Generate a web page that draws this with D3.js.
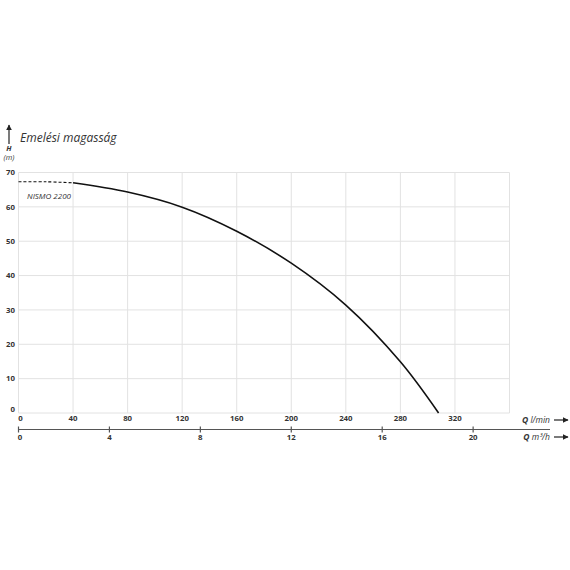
<!DOCTYPE html>
<html lang="en">
<head>
<meta charset="UTF-8" />
<title>NISMO 2200</title>
<style>
  body { margin: 0; background: #fff; }
  svg text { font-family: "Open Sans", "DejaVu Sans", sans-serif; fill: #333; }
  .tick-lbl { font-size: 7.8px; font-weight: 700; }
  .it { font-style: italic; }
</style>
</head>
<body>
<svg width="570" height="570"></svg>
<script src="https://d3js.org/d3.v7.min.js"></script>
<script>
// pump curve, flow in l/min, head in m
var flowLmin = [0, 20, 40, 80, 120, 160, 200, 240, 280, 308];
var headM    = [67.3, 67.3, 67.0, 64.3, 59.9, 52.9, 43.6, 31.4, 14.9, 0];
var dashedUntil = 40;   // first part of the curve is dashed

var qTicks  = [0, 40, 80, 120, 160, 200, 240, 280, 320];
var qGrid   = [0, 40, 80, 120, 160, 200, 240, 280, 320, 360];
var hTicks  = [0, 10, 20, 30, 40, 50, 60, 70];
var m3Ticks = [0, 4, 8, 12, 16, 20];

var svg = d3.select("svg");

var x = d3.scaleLinear().domain([0, 360]).range([18.5, 509.5]);
var y = d3.scaleLinear().domain([0, 70]).range([413, 172.5]);
// m3/h -> l/min : * 1000 / 60
var xm3 = d3.scaleLinear().domain([0, 360 * 60 / 1000]).range(x.range());

// grid
var grid = svg.append("g").attr("stroke", "#e2e2e2").attr("stroke-width", 1);
grid.selectAll("line.v").data(qGrid).enter().append("line")
    .attr("x1", function(d) { return x(d); }).attr("x2", function(d) { return x(d); })
    .attr("y1", y(70)).attr("y2", y(0));
grid.selectAll("line.h").data(hTicks).enter().append("line")
    .attr("x1", x(0)).attr("x2", x(360))
    .attr("y1", function(d) { return y(d); }).attr("y2", function(d) { return y(d); });

// y labels
svg.append("g").selectAll("text").data(hTicks).enter().append("text")
    .attr("class", "tick-lbl")
    .attr("x", 15).attr("y", function(d) { return y(d); })
    .attr("dy", function(d) { return d === 0 ? "-0.1em" : "0.35em"; })
    .attr("text-anchor", "end")
    .text(function(d) { return d; });

// l/min labels
svg.append("g").selectAll("text").data(qTicks).enter().append("text")
    .attr("class", "tick-lbl")
    .attr("x", function(d) { return x(d) + (d === 0 ? 2 : 0); })
    .attr("y", 421)
    .attr("text-anchor", "middle")
    .text(function(d) { return d; });

// m3/h axis
var axM3 = svg.append("g").attr("transform", "translate(0,429.5)");
axM3.append("line").attr("x1", x(0)).attr("x2", 550)
    .attr("stroke", "#555").attr("stroke-width", 1.2);
axM3.selectAll("line.t").data(m3Ticks).enter().append("line")
    .attr("x1", function(d) { return xm3(d); }).attr("x2", function(d) { return xm3(d); })
    .attr("y1", -3).attr("y2", 3)
    .attr("stroke", "#555").attr("stroke-width", 1.2);
axM3.selectAll("text").data(m3Ticks).enter().append("text")
    .attr("class", "tick-lbl")
    .attr("x", function(d) { return xm3(d) + (d === 0 ? 1.5 : 0); })
    .attr("y", 10)
    .attr("text-anchor", "middle")
    .text(function(d) { return d; });

// curve
var pts = flowLmin.map(function(q, i) { return [q, headM[i]]; });
var line = d3.line()
    .x(function(d) { return x(d[0]); })
    .y(function(d) { return y(d[1]); })
    .curve(d3.curveCatmullRom.alpha(0.5));

svg.append("path")
    .datum(pts.filter(function(d) { return d[0] <= dashedUntil; }))
    .attr("d", line)
    .attr("fill", "none").attr("stroke", "#111").attr("stroke-width", 1.1)
    .attr("stroke-dasharray", "3,2");
svg.append("path")
    .datum(pts.filter(function(d) { return d[0] >= dashedUntil; }))
    .attr("d", line)
    .attr("fill", "none").attr("stroke", "#111").attr("stroke-width", 1.6);

svg.append("text").attr("class", "it")
    .attr("x", 27).attr("y", 199)
    .style("font-size", "8px")
    .text("NISMO 2200");

// arrows
svg.append("defs").append("marker")
    .attr("id", "ah").attr("viewBox", "0 0 10 10")
    .attr("refX", 9).attr("refY", 5)
    .attr("markerWidth", 5).attr("markerHeight", 5)
    .attr("orient", "auto-start-reverse")
    .append("path").attr("d", "M0,0 L10,5 L0,10 z").attr("fill", "#222");

svg.append("line").attr("x1", 9).attr("y1", 144).attr("x2", 9).attr("y2", 125)
    .attr("stroke", "#222").attr("stroke-width", 1.2).attr("marker-end", "url(#ah)");
[420, 437].forEach(function(yy) {
  svg.append("line").attr("x1", 554).attr("y1", yy).attr("x2", 568).attr("y2", yy)
      .attr("stroke", "#222").attr("stroke-width", 1.2).attr("marker-end", "url(#ah)");
});

// axis titles
svg.append("text").attr("class", "it")
    .attr("x", 20).attr("y", 142)
    .style("font-size", "12px")
    .text("Emelési magasság");
svg.append("text").attr("class", "it")
    .attr("x", 9).attr("y", 151).attr("text-anchor", "middle")
    .style("font-size", "7.5px").style("font-weight", "700")
    .text("H");
svg.append("text").attr("class", "it")
    .attr("x", 9).attr("y", 160).attr("text-anchor", "middle")
    .style("font-size", "7.5px")
    .text("(m)");

var ql = svg.append("text").attr("class", "it")
    .attr("x", 550).attr("y", 422.5).attr("text-anchor", "end")
    .style("font-size", "8.5px");
ql.append("tspan").style("font-weight", "700").text("Q ");
ql.append("tspan").text("l/min");

var qm = svg.append("text").attr("class", "it")
    .attr("x", 550).attr("y", 439.5).attr("text-anchor", "end")
    .style("font-size", "8.5px");
qm.append("tspan").style("font-weight", "700").text("Q ");
qm.append("tspan").text("m³/h");
</script>
</body>
</html>
